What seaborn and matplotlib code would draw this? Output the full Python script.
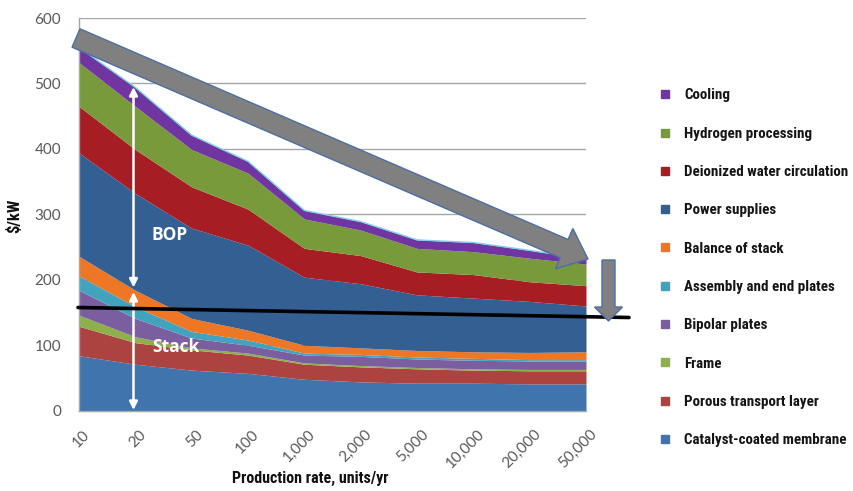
import matplotlib
matplotlib.use("Agg")
import numpy as np
import pandas as pd
import matplotlib.pyplot as plt
import seaborn as sns
from matplotlib import font_manager as fm
from matplotlib.patches import Polygon
from matplotlib.lines import Line2D

# ---------------- data ----------------
rates = ["10", "20", "50", "100", "1,000", "2,000", "5,000", "10,000", "20,000", "50,000"]

catalyst_coated_membrane = [84, 71, 62, 57, 48, 44, 42, 42, 41, 41]
porous_transport_layer = [45, 33, 31, 28, 23, 23, 22, 20, 20, 20]
frame = [17, 9, 3, 3, 2, 2, 2, 2, 2, 2]
bipolar_plates = [38, 28, 15, 12, 12, 14, 13, 13, 13, 13]
assembly_end_plates = [22, 18, 10, 8, 3, 3, 3, 3, 2, 2]
balance_of_stack = [30, 25, 20, 15, 12, 10, 10, 10, 11, 12]
power_supplies = [158, 148, 138, 130, 104, 98, 85, 82, 78, 70]
deionized_water = [71, 67, 63, 55, 44, 43, 35, 36, 30, 31]
hydrogen_processing = [67, 66, 57, 55, 45, 39, 36, 35, 36, 33]
cooling = [23, 29, 22, 18, 13, 13, 13, 14, 12, 8]

series_names = ["Catalyst-coated membrane", "Porous transport layer", "Frame",
                "Bipolar plates", "Assembly and end plates", "Balance of stack",
                "Power supplies", "Deionized water circulation",
                "Hydrogen processing", "Cooling"]
series_values = [catalyst_coated_membrane, porous_transport_layer, frame,
                 bipolar_plates, assembly_end_plates, balance_of_stack,
                 power_supplies, deionized_water, hydrogen_processing, cooling]
colors = ["#3f74ad", "#ad4341", "#8db04a", "#7b5e9f", "#42a3bf", "#ee7726",
          "#335f93", "#a61d24", "#789a3b", "#7035a0"]

# ---------------- fonts ----------------
sns.set_theme(style="white")
names = {f.name for f in fm.fontManager.ttflist}
cond = None
for cand in ["Roboto Condensed", "Liberation Sans Narrow", "DejaVu Sans Condensed",
             "Open Sans Condensed", "Noto Sans Condensed"]:
    if cand in names:
        cond = cand
        break
if cond is None:
    cond = "DejaVu Sans"
cond_family = [cond, "DejaVu Sans"]
tick_family = ["Lato", "DejaVu Sans"]
plt.rcParams["font.family"] = tick_family

W, H = 854, 491
fig = plt.figure(figsize=(W / 100, H / 100), dpi=100)
fig.patch.set_facecolor("white")
left, right, top, bottom = 79, 586, 18, 410.7
ax = fig.add_axes([left / W, 1 - bottom / H, (right - left) / W, (bottom - top) / H])

x = np.arange(len(rates))
df = pd.DataFrame({n: v for n, v in zip(series_names, series_values)}, index=x)
ax.stackplot(x, *[df[n].values for n in series_names], colors=colors,
             linewidth=0, zorder=2)
total = df.sum(axis=1)
sns.lineplot(x=x, y=total.values, ax=ax, color="#7fd3e3", lw=1.0, zorder=3, legend=False)

ax.set_xlim(0, len(rates) - 1)
ax.set_ylim(0, 600)
ax.set_yticks(range(0, 601, 100))
ax.set_xticks(x)
ax.set_xticklabels(rates, rotation=45, ha="right", va="top", rotation_mode="anchor")
ax.yaxis.grid(True, color="#a6a6a6", lw=1.0, zorder=0)
ax.set_axisbelow(True)
for s in ["top", "right"]:
    ax.spines[s].set_visible(False)
for s in ["left", "bottom"]:
    ax.spines[s].set_color("#a6a6a6")
    ax.spines[s].set_linewidth(1.0)
ax.tick_params(axis="both", length=0, labelsize=11, colors="#595959")
ax.tick_params(axis="y", pad=13)
ax.tick_params(axis="x", pad=12)
for lab in ax.get_xticklabels():
    lab.set_transform(lab.get_transform() + matplotlib.transforms.ScaledTranslation(0.04, 0, fig.dpi_scale_trans))

ax.set_xlabel("Production rate, units/yr", family=cond_family, fontweight="bold",
              fontsize=11.5, color="#111111", va="center", ha="center")
ax.xaxis.set_label_coords((310 - left) / (right - left), -(478 - bottom) / (bottom - top))
ax.set_ylabel("$/kW", family=cond_family, fontweight="bold", fontsize=12,
              color="#111111", va="center", ha="center")
ax.yaxis.set_label_coords((14 - left) / (right - left), (bottom - 216) / (bottom - top))

# ---------------- legend ----------------
handles = [Line2D([], [], marker="s", ls="none", markersize=6, color=c) for c in colors]
leg = fig.legend(handles[::-1], series_names[::-1], loc="upper left",
                 bbox_to_anchor=(644 / W, 1 - 75 / H), frameon=False,
                 prop={"family": cond_family, "weight": "bold", "size": 10.8},
                 labelspacing=1.62, handletextpad=0.8, handlelength=1.0)
for t in leg.get_texts():
    t.set_color("#141414")

# ---------------- annotations (pixel space) ----------------
def P(px, py):
    return (px / W, 1 - py / H)

def arrow_poly(tail, tip, shaft_w, head_w, head_l):
    t = np.array(tail, float); h = np.array(tip, float)
    u = (h - t) / np.linalg.norm(h - t)
    n = np.array([-u[1], u[0]])
    b = h - u * head_l
    pts = [t + n * shaft_w / 2, b + n * shaft_w / 2, b + n * head_w / 2, h,
           b - n * head_w / 2, b - n * shaft_w / 2, t - n * shaft_w / 2]
    return [P(*p) for p in pts]

big = Polygon(arrow_poly((76, 38), (588, 259), 20, 44, 26), closed=True,
              facecolor="#808080", edgecolor="#4a6fa5", lw=1.0,
              transform=fig.transFigure, zorder=10)
fig.patches.append(big)
small = Polygon(arrow_poly((608.5, 260), (608.5, 321), 13, 28, 14), closed=True,
                facecolor="#808080", edgecolor="#4a6fa5", lw=1.0,
                transform=fig.transFigure, zorder=10)
fig.patches.append(small)

fig.add_artist(Line2D([78 / W, 629 / W], [1 - 307.5 / H, 1 - 317.5 / H],
                      color="black", lw=2.6, transform=fig.transFigure, zorder=9))

# white double arrows
arrow_kw = dict(arrowstyle="<|-|>", color="white", lw=1.8, mutation_scale=12,
                shrinkA=0, shrinkB=0)
ax.annotate("", xy=P(133.5, 87), xytext=P(133.5, 287.5), xycoords="figure fraction",
            textcoords="figure fraction", arrowprops=arrow_kw, zorder=8)
ax.annotate("", xy=P(133.5, 292), xytext=P(133.5, 410), xycoords="figure fraction",
            textcoords="figure fraction", arrowprops=arrow_kw, zorder=8,
            annotation_clip=False)

fig.text(*P(170, 235), "BOP", color="white", fontsize=12.5, fontweight="bold",
         ha="center", va="center", family=["Open Sans", "DejaVu Sans"])
fig.text(*P(176, 347), "Stack", color="white", fontsize=12.5, fontweight="bold",
         ha="center", va="center", family=["Open Sans", "DejaVu Sans"])

fig.savefig("out.png", dpi=100, facecolor="white")
